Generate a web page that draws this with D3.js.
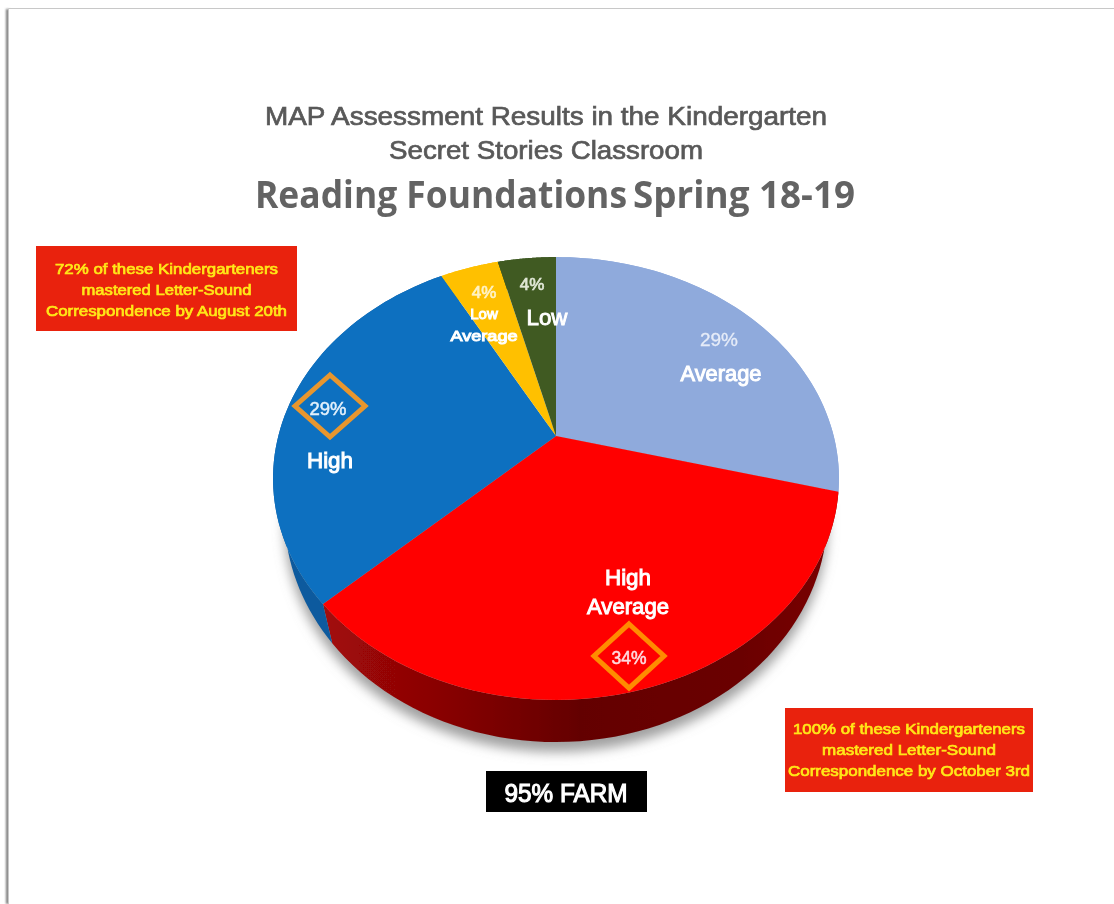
<!DOCTYPE html>
<html><head><meta charset="utf-8">
<script src="https://cdn.jsdelivr.net/npm/d3@7"></script>
<style>html,body{margin:0;padding:0;background:#fff}svg{display:block}</style>
</head><body><svg id="c" width="1114" height="904"></svg>
<script>
const categories = ["Average","High Average","High","Low Average","Low"];
const shares = [29,34,29,4,4];
const colours = ["#8faadc","#ff0505","#0b70c0","#ffc000","#3f5a23"];
const titleLines = ["MAP Assessment Results in the Kindergarten","Secret Stories Classroom"];
const subtitleParts = ["Reading Foundations","Spring 18-19"];
const noteLeft = ["72% of these Kindergarteners","mastered Letter-Sound","Correspondence by August 20th"];
const noteRight = ["100% of these Kindergarteners","mastered Letter-Sound","Correspondence by October 3rd"];
const footer = "95% FARM";

const svg = d3.select("#c");
const defs = svg.append("defs");
const blur = (id,s)=>defs.append("filter").attr("id",id)
  .attr("x","-20%").attr("y","-20%").attr("width","140%").attr("height","140%")
  .append("feGaussianBlur").attr("stdDeviation",s);
blur("soft",0.6); blur("shadow",6);
defs.append("filter").attr("id","edge").attr("filterUnits","userSpaceOnUse")
  .attr("x",0).attr("y",0).attr("width",30).attr("height",904)
  .append("feGaussianBlur").attr("stdDeviation",1.3);
const grad=(id,stops)=>{const g=defs.append("linearGradient").attr("id",id).attr("gradientUnits","userSpaceOnUse")
  .attr("x1",320).attr("x2",840).attr("y1",0).attr("y2",0);
  stops.forEach(([o,c])=>g.append("stop").attr("offset",o).attr("stop-color",c));};
grad("redSide",[[0,"#a30808"],[0.22,"#8a0505"],[0.5,"#640303"],[0.8,"#6a0303"],[1,"#7a0404"]]);
grad("blueSide",[[0,"#0d5a9e"],[1,"#0d5a9e"]]);

// frame of the page
svg.append("rect").attr("x",6).attr("y",9).attr("width",3).attr("height",895).attr("fill","#7a7a7a").attr("filter","url(#edge)");
svg.append("rect").attr("x",9).attr("y",9).attr("width",1105).attr("height",895).attr("fill","#fff");
svg.append("path").attr("d","M8.5,904V8.5H1114").attr("fill","none").attr("stroke","#c8c8c8").attr("stroke-width",1);

// perspective disc projection
const cx=556, cy=436, a=277.7, b=213.3, k=0.192, depth=34, shrink=0.96;
const project=(t,r,lower)=>{const u=r*Math.sin(t), v=-r*Math.cos(t), w=1-k*v;
  const s=lower?shrink:1;
  return [cx+s*a*u/w, cy+b*v/w+(lower?depth/w:0)];};
const pieGen=d3.pie().sort(null).startAngle(0).endAngle(2*Math.PI);
const arcs=pieGen(shares);
const line=d3.line();
const samples=(s,e)=>d3.range(0,61).map(i=>s+(e-s)*i/60);

const root=svg.append("g").attr("filter","url(#soft)");
// soft ground shadow
root.append("path").attr("transform","translate(0,10)").attr("fill","#a0a0a0").attr("filter","url(#shadow)")
  .attr("d",line(samples(Math.PI*0.42,Math.PI*1.58).map(t=>project(t,1,true)))+"Z");

// side wall
root.selectAll("path.side").data(arcs).join("path").attr("class","side")
  .attr("fill",d=>d.index===1?"url(#redSide)":d.index===2?"url(#blueSide)":colours[d.index])
  .attr("d",d=>{const ts=samples(d.startAngle,d.endAngle);
    return line(ts.map(t=>project(t,1,false)).concat(ts.slice().reverse().map(t=>project(t,1,true))))+"Z";});
// top surface
root.selectAll("path.top").data(arcs).join("path").attr("class","top")
  .attr("fill",d=>colours[d.index])
  .attr("d",d=>line([project(0,0,false)].concat(samples(d.startAngle,d.endAngle).map(t=>project(t,1,false))))+"Z");

const sans="'Liberation Sans',Arial,sans-serif";
const text=(x,y,s,size,fill,heavy,font,len,weight)=>{const n=root.append("text").attr("x",x).attr("y",y)
  .attr("text-anchor","middle").attr("font-family",font||sans).attr("font-size",size)
  .attr("font-weight",weight||"normal").attr("fill",fill).text(s);
  if(heavy) n.attr("stroke",fill).attr("stroke-width",heavy);
  if(len) n.attr("textLength",len).attr("lengthAdjust","spacingAndGlyphs"); return n;};

// titles
text(546,125,titleLines[0],26,"#595959",0.7,null,562);
text(546,159,titleLines[1],26,"#595959",0.7,null,314);
text(441,208,subtitleParts[0],37,"#636363",0,"'Open Sans',sans-serif",372,"bold");
text(744,208,subtitleParts[1],37,"#636363",0,"'Open Sans',sans-serif",222,"bold");

// diamonds
const diamond=(x,y,w,h,c,sw)=>root.append("path").attr("fill","none").attr("stroke",c).attr("stroke-width",sw)
  .attr("d",line([[x,y-h],[x+w,y],[x,y+h],[x-w,y]])+"Z");
diamond(330,406,35,31,"#e8962e",5);
diamond(629,656,35,32,"#ff8c00",5);

// slice labels
const pct=d=>d+"%";
text(719,346,pct(shares[0]),19,"#e6ecf8",0.3,null,38);
text(721,381,categories[0],22,"#ffffff",1,null,81);
text(628,585,"High",22,"#ffffff",1,null,46);
text(628,614,"Average",22,"#ffffff",1,null,82);
text(629,664,pct(shares[1]),18,"#ffdbe0",0.5,null,35);
text(328,415,pct(shares[2]),18,"#e3f0fb",0.5,null,37);
text(330,468,categories[2],22,"#ffffff",1,null,46);
text(484,298,pct(shares[3]),17,"#fff2c4",0.7);
text(484,319,"Low",15,"#ffffff",1);
text(484,341,"Average",15,"#ffffff",1,null,67);
text(532,290,pct(shares[4]),17,"#dfe6d4",0.7);
text(547,325,categories[4],22,"#ffffff",0.9,null,41);

// notes
const note=(x,y,w,h,lines,base,lens)=>{
  root.append("rect").attr("x",x).attr("y",y).attr("width",w).attr("height",h).attr("fill","#e9230f");
  lines.forEach((l,i)=>text(x+w/2,y+base+i*21,l,15.5,"#ffe816",0.7,null,lens[i]));};
note(36,246,261,85,noteLeft,28,[223,170,241]);
note(785,708,248,84,noteRight,26,[232,174,242]);

// footer
root.append("rect").attr("x",486).attr("y",771).attr("width",161).attr("height",41).attr("fill","#000");
text(566,802,footer,25,"#ffffff",1.1,null,123);
</script></body></html>
